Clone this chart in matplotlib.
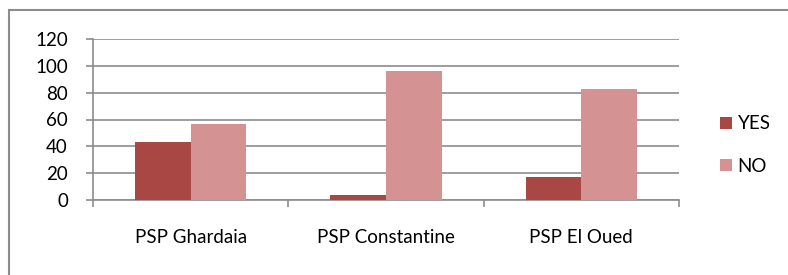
import numpy as np
from matplotlib import pyplot as plt
from matplotlib.patches import Rectangle

categories = ["PSP Ghardaia", "PSP Constantine", "PSP El Oued"]
yes_vals = [43, 4, 17.5]
no_vals = [57, 96, 82.5]
series_names = ["YES", "NO"]
y_ticks = [0, 20, 40, 60, 80, 100, 120]

plt.rcParams['font.family'] = ['Lato', 'DejaVu Sans']

W, H = 788, 275
fig = plt.figure(figsize=(W/100, H/100), dpi=100)
ax = fig.add_axes([93/W, 1-200/H, (679-93)/W, 161/H])

x = np.arange(len(categories))
bw = 0.285
ax.bar(x - bw/2, yes_vals, bw, color='#A94744', label=series_names[0], zorder=3)
ax.bar(x + bw/2, no_vals, bw, color='#D49292', label=series_names[1], zorder=3)

ax.set_xlim(-0.5, len(categories) - 0.5)
ax.set_ylim(0, 120)
ax.set_yticks(y_ticks)
ax.set_xticks(x)
ax.set_xticklabels(categories)
ax.set_xticks(np.arange(len(categories) + 1) - 0.5, minor=True)
ax.yaxis.grid(True, color='#8C8C8C', linewidth=1.2, zorder=0)
for s in ['top', 'right']:
    ax.spines[s].set_visible(False)
for s in ['left', 'bottom']:
    ax.spines[s].set_color('#8C8C8C')
    ax.spines[s].set_linewidth(1.2)
fs = 13.5
ax.tick_params(axis='x', which='major', length=0, pad=21, labelsize=fs)
ax.tick_params(axis='x', which='minor', length=5, color='#8C8C8C', width=1.2)
ax.tick_params(axis='y', length=5, color='#8C8C8C', width=1.2, labelsize=fs, pad=13)

leg = ax.legend(loc='center left', bbox_to_anchor=(703/W, 1-145/H), bbox_transform=fig.transFigure,
                frameon=False, fontsize=fs, handlelength=0.65, handleheight=0.65,
                handletextpad=0.3, labelspacing=1.35)

fig.patches.append(Rectangle((8.5/W, -0.1), 1.2, 1.1 - 9.5/H, transform=fig.transFigure,
                             fill=False, edgecolor='#8C8C8C', linewidth=1.5))

fig.savefig("out.png", dpi=100)
